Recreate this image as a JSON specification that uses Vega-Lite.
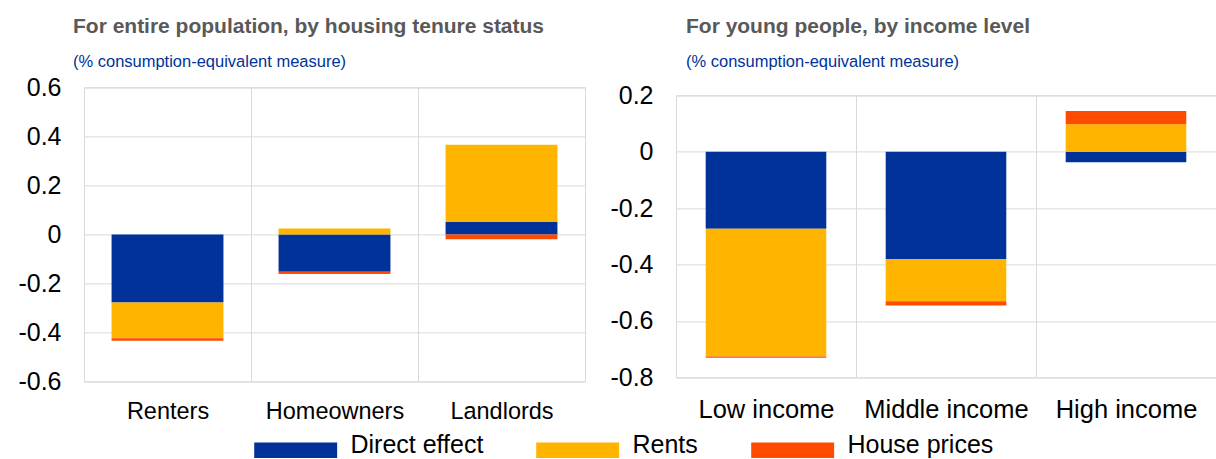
{
  "$schema": "https://vega.github.io/schema/vega-lite/v6.json",
  "background": "white",
  "padding": {"left": 17, "top": 15.4, "right": 0, "bottom": 0},
  "config": {
    "font": "Liberation Sans",
    "view": {"stroke": "#d9d9d9", "strokeWidth": 1},
    "axis": {"gridColor": "#d9d9d9", "gridWidth": 1, "domain": false, "ticks": false, "tickSize": 0, "labelColor": "#000000", "labelFont": "Liberation Sans", "title": null},
    "title": {"anchor": "start", "frame": "group", "font": "Liberation Sans", "fontSize": 21, "fontWeight": "bold", "color": "#595959", "subtitleFont": "Liberation Sans", "subtitleFontSize": 16.5, "subtitleColor": "#003299", "subtitlePadding": 17}
  },
  "datasets": {
    "tenure": [
      {"group": "Renters", "series": "Direct effect", "k": 1, "value": -0.278},
      {"group": "Renters", "series": "Rents", "k": 2, "value": -0.146},
      {"group": "Renters", "series": "House prices", "k": 3, "value": -0.010},
      {"group": "Homeowners", "series": "Direct effect", "k": 1, "value": -0.152},
      {"group": "Homeowners", "series": "Rents", "k": 2, "value": 0.024},
      {"group": "Homeowners", "series": "House prices", "k": 3, "value": -0.010},
      {"group": "Landlords", "series": "Direct effect", "k": 1, "value": 0.051},
      {"group": "Landlords", "series": "Rents", "k": 2, "value": 0.315},
      {"group": "Landlords", "series": "House prices", "k": 3, "value": -0.020}
    ],
    "income": [
      {"group": "Low income", "series": "Direct effect", "k": 1, "value": -0.273},
      {"group": "Low income", "series": "Rents", "k": 2, "value": -0.453},
      {"group": "Low income", "series": "House prices", "k": 3, "value": -0.004},
      {"group": "Middle income", "series": "Direct effect", "k": 1, "value": -0.380},
      {"group": "Middle income", "series": "Rents", "k": 2, "value": -0.150},
      {"group": "Middle income", "series": "House prices", "k": 3, "value": -0.015},
      {"group": "High income", "series": "Direct effect", "k": 1, "value": -0.037},
      {"group": "High income", "series": "Rents", "k": 2, "value": 0.098},
      {"group": "High income", "series": "House prices", "k": 3, "value": 0.047}
    ],
    "empty": []
  },
  "spacing": 23,
  "hconcat": [
    {
      "width": 501,
      "height": 294,
      "title": {"text": "For entire population, by housing tenure status", "subtitle": "(% consumption-equivalent measure)", "dx": -11, "offset": 5},
      "data": {"name": "tenure"},
      "mark": {"type": "bar", "width": {"band": 0.67}},
      "encoding": {
        "x": {"field": "group", "type": "nominal", "sort": ["Renters", "Homeowners", "Landlords"], "scale": {"paddingInner": 0, "paddingOuter": 0}, "axis": {"labelAngle": 0, "labelFontSize": 23.5, "labelPadding": 18, "grid": true, "tickBand": "extent", "title": null}},
        "y": {"field": "value", "type": "quantitative", "stack": "zero", "scale": {"domain": [-0.6, 0.6], "nice": false, "zero": false}, "axis": {"values": [-0.6, -0.4, -0.2, 0, 0.2, 0.4, 0.6], "labelExpr": "datum.value == 0 ? '0' : (datum.value < 0 ? '-' : '') + format(abs(datum.value), '.1f')", "labelFontSize": 25, "labelPadding": 23, "labelFlush": false, "title": null}},
        "color": {"field": "series", "type": "nominal", "scale": {"domain": ["Direct effect", "Rents", "House prices"], "range": ["#003299", "#FFB400", "#FF4B00"]}, "legend": {"orient": "none", "legendX": 165.5, "legendY": 345, "direction": "horizontal", "title": null, "symbolType": "M-1,-0.35H9.64V1.65H-1Z", "symbolSize": 243, "symbolStrokeWidth": 0, "symbolOpacity": 1, "labelFontSize": 25, "labelOffset": 76, "columnPadding": 48, "labelColor": "#000000", "labelFont": "Liberation Sans"}},
        "order": {"field": "k", "type": "quantitative"}
      }
    },
    {
      "title": {"text": "For young people, by income level", "subtitle": "(% consumption-equivalent measure)", "dx": 10, "offset": 12.4},
      "bounds": "flush",
      "spacing": 0,
      "vconcat": [
        {
          "width": 540,
          "height": 7.4,
          "view": {"stroke": null},
          "data": {"name": "empty"},
          "mark": {"type": "point"},
          "encoding": {}
        },
        {
          "width": 540,
          "height": 282,
          "data": {"name": "income"},
          "mark": {"type": "bar", "width": {"band": 0.67}},
          "encoding": {
            "x": {"field": "group", "type": "nominal", "sort": ["Low income", "Middle income", "High income"], "scale": {"paddingInner": 0, "paddingOuter": 0}, "axis": {"labelAngle": 0, "labelFontSize": 25.5, "labelPadding": 20, "grid": true, "tickBand": "extent", "title": null}},
            "y": {"field": "value", "type": "quantitative", "stack": "zero", "scale": {"domain": [-0.8, 0.2], "nice": false, "zero": false}, "axis": {"values": [-0.8, -0.6, -0.4, -0.2, 0, 0.2], "labelExpr": "datum.value == 0 ? '0' : (datum.value < 0 ? '-' : '') + format(abs(datum.value), '.1f')", "labelFontSize": 25, "labelPadding": 23, "labelFlush": false, "title": null}},
            "color": {"field": "series", "type": "nominal", "scale": {"domain": ["Direct effect", "Rents", "House prices"], "range": ["#003299", "#FFB400", "#FF4B00"]}, "legend": {"orient": "none", "legendX": 165.5, "legendY": 345, "direction": "horizontal", "title": null, "symbolType": "M-1,-0.35H9.64V1.65H-1Z", "symbolSize": 243, "symbolStrokeWidth": 0, "symbolOpacity": 1, "labelFontSize": 25, "labelOffset": 76, "columnPadding": 48, "labelColor": "#000000", "labelFont": "Liberation Sans"}},
            "order": {"field": "k", "type": "quantitative"}
          }
        }
      ]
    }
  ]
}
